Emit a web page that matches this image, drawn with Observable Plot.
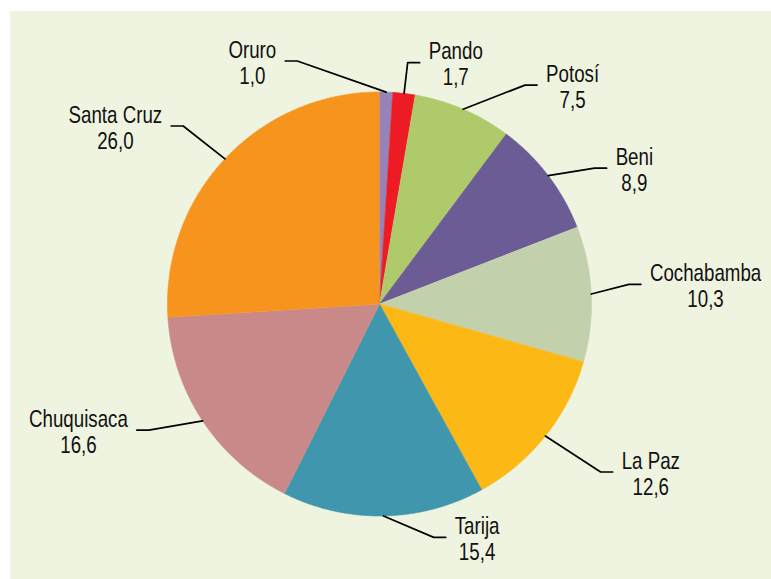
<!DOCTYPE html>
<html>
<head>
<meta charset="utf-8">
<script src="https://cdn.jsdelivr.net/npm/d3@7"></script>
<script src="https://cdn.jsdelivr.net/npm/@observablehq/plot@0.6"></script>
<style>
  html, body { margin: 0; padding: 0; background: #ffffff; }
  #chart { position: absolute; left: 10px; top: 11px; width: 761px; height: 568px; background: #eff4e0; }
  #chart svg { display: block; }
</style>
</head>
<body>
<div id="chart"></div>
<script>
// Data (percent shares, clockwise from 12 o'clock)
const names  = ["Oruro", "Pando", "Potosí", "Beni", "Cochabamba", "La Paz", "Tarija", "Chuquisaca", "Santa Cruz"];
const values = [1.0, 1.7, 7.5, 8.9, 10.3, 12.6, 15.4, 16.6, 26.0];
const colors = ["#9683b8", "#ed1c24", "#afca6a", "#6b5c95", "#c2d1ac", "#fcb814", "#4097ad", "#c98989", "#f7941e"];

// Label layout: angular turn (degrees) of the elbow from the slice middle, and its reach (x radius)
const labelTurn  = [-20.5, 0, 10.4, 5, -1.8, -1.3, -12, 4.8, -1];
const labelReach = [1.21, 1.146, 1.24, 1.2, 1.18, 1.31, 1.13, 1.24, 1.25];

const W = 761, H = 568;
const cx = 369, cy = 292.5, R = 212;
const font = "'Liberation Sans', Arial, sans-serif";
const fontSize = 24;
const squeeze = 0.78; // condensed look

const ctx = document.createElement("canvas").getContext("2d");
ctx.font = `${fontSize}px ${font}`;
const textW = s => ctx.measureText(s).width * squeeze;

const total = d3.sum(values);
const rad = Math.PI / 180;
let acc = 0;
const slices = names.map((name, i) => {
  const a0 = acc / total * 360;
  acc += values[i];
  const a1 = acc / total * 360;
  return {name, value: values[i], a0, a1, mid: (a0 + a1) / 2};
});

// Wedge polygons in unit coordinates (x = sin, y = cos of angle from top)
const wedges = [];
for (const s of slices) {
  wedges.push({name: s.name, x: 0, y: 0});
  const n = Math.max(2, Math.ceil((s.a1 - s.a0) / 0.5));
  for (let k = 0; k <= n; k++) {
    const a = (s.a0 + (s.a1 - s.a0) * k / n) * rad;
    wedges.push({name: s.name, x: Math.sin(a), y: Math.cos(a)});
  }
}

// Leader lines and labels
const pxUnit = R; // pixels per data unit
const hseg = 12 / pxUnit;
const gap = 9;
const leaders = [];
const labels = [];
slices.forEach((s, i) => {
  const am = s.mid * rad;
  const ae = (s.mid + labelTurn[i]) * rad;
  const ex = Math.sin(ae) * labelReach[i], ey = Math.cos(ae) * labelReach[i];
  const side = Math.sin(ae) >= 0 ? 1 : -1;
  const hx = ex + side * hseg;
  leaders.push({name: s.name, x: Math.sin(am), y: Math.cos(am)});
  leaders.push({name: s.name, x: ex, y: ey});
  leaders.push({name: s.name, x: hx, y: ey});
  const w = textW(s.name);
  labels.push({
    name: s.name,
    valueText: s.value.toFixed(1).replace(".", ","),
    x: hx + side * (gap + w / 2) / pxUnit,
    y: ey
  });
});

const chart = Plot.plot({
  width: W,
  height: H,
  margin: 0,
  x: {domain: [-1, 1], range: [cx - R, cx + R], axis: null},
  y: {domain: [-1, 1], range: [cy + R, cy - R], axis: null},
  color: {domain: names, range: colors},
  style: {background: "transparent", fontFamily: font},
  marks: [
    Plot.line(wedges, {x: "x", y: "y", z: "name", fill: "name", stroke: "name", strokeWidth: 0.6, curve: "linear"}),
    Plot.line(leaders, {x: "x", y: "y", z: "name", stroke: "#000", strokeWidth: 1.7, curve: "linear"}),
    Plot.text(labels, {x: "x", y: "y", text: "name", dy: -11, fontSize, fontFamily: font, fill: "#111"}),
    Plot.text(labels, {x: "x", y: "y", text: "valueText", dy: 15, fontSize, fontFamily: font, fill: "#111"})
  ]
});
// Narrow the label glyphs horizontally to mimic the condensed typeface
chart.querySelectorAll("text").forEach(t => {
  const tr = t.getAttribute("transform") || "";
  t.setAttribute("transform", `${tr} scale(${squeeze},1)`);
});
document.getElementById("chart").appendChild(chart);
</script>
</body>
</html>
